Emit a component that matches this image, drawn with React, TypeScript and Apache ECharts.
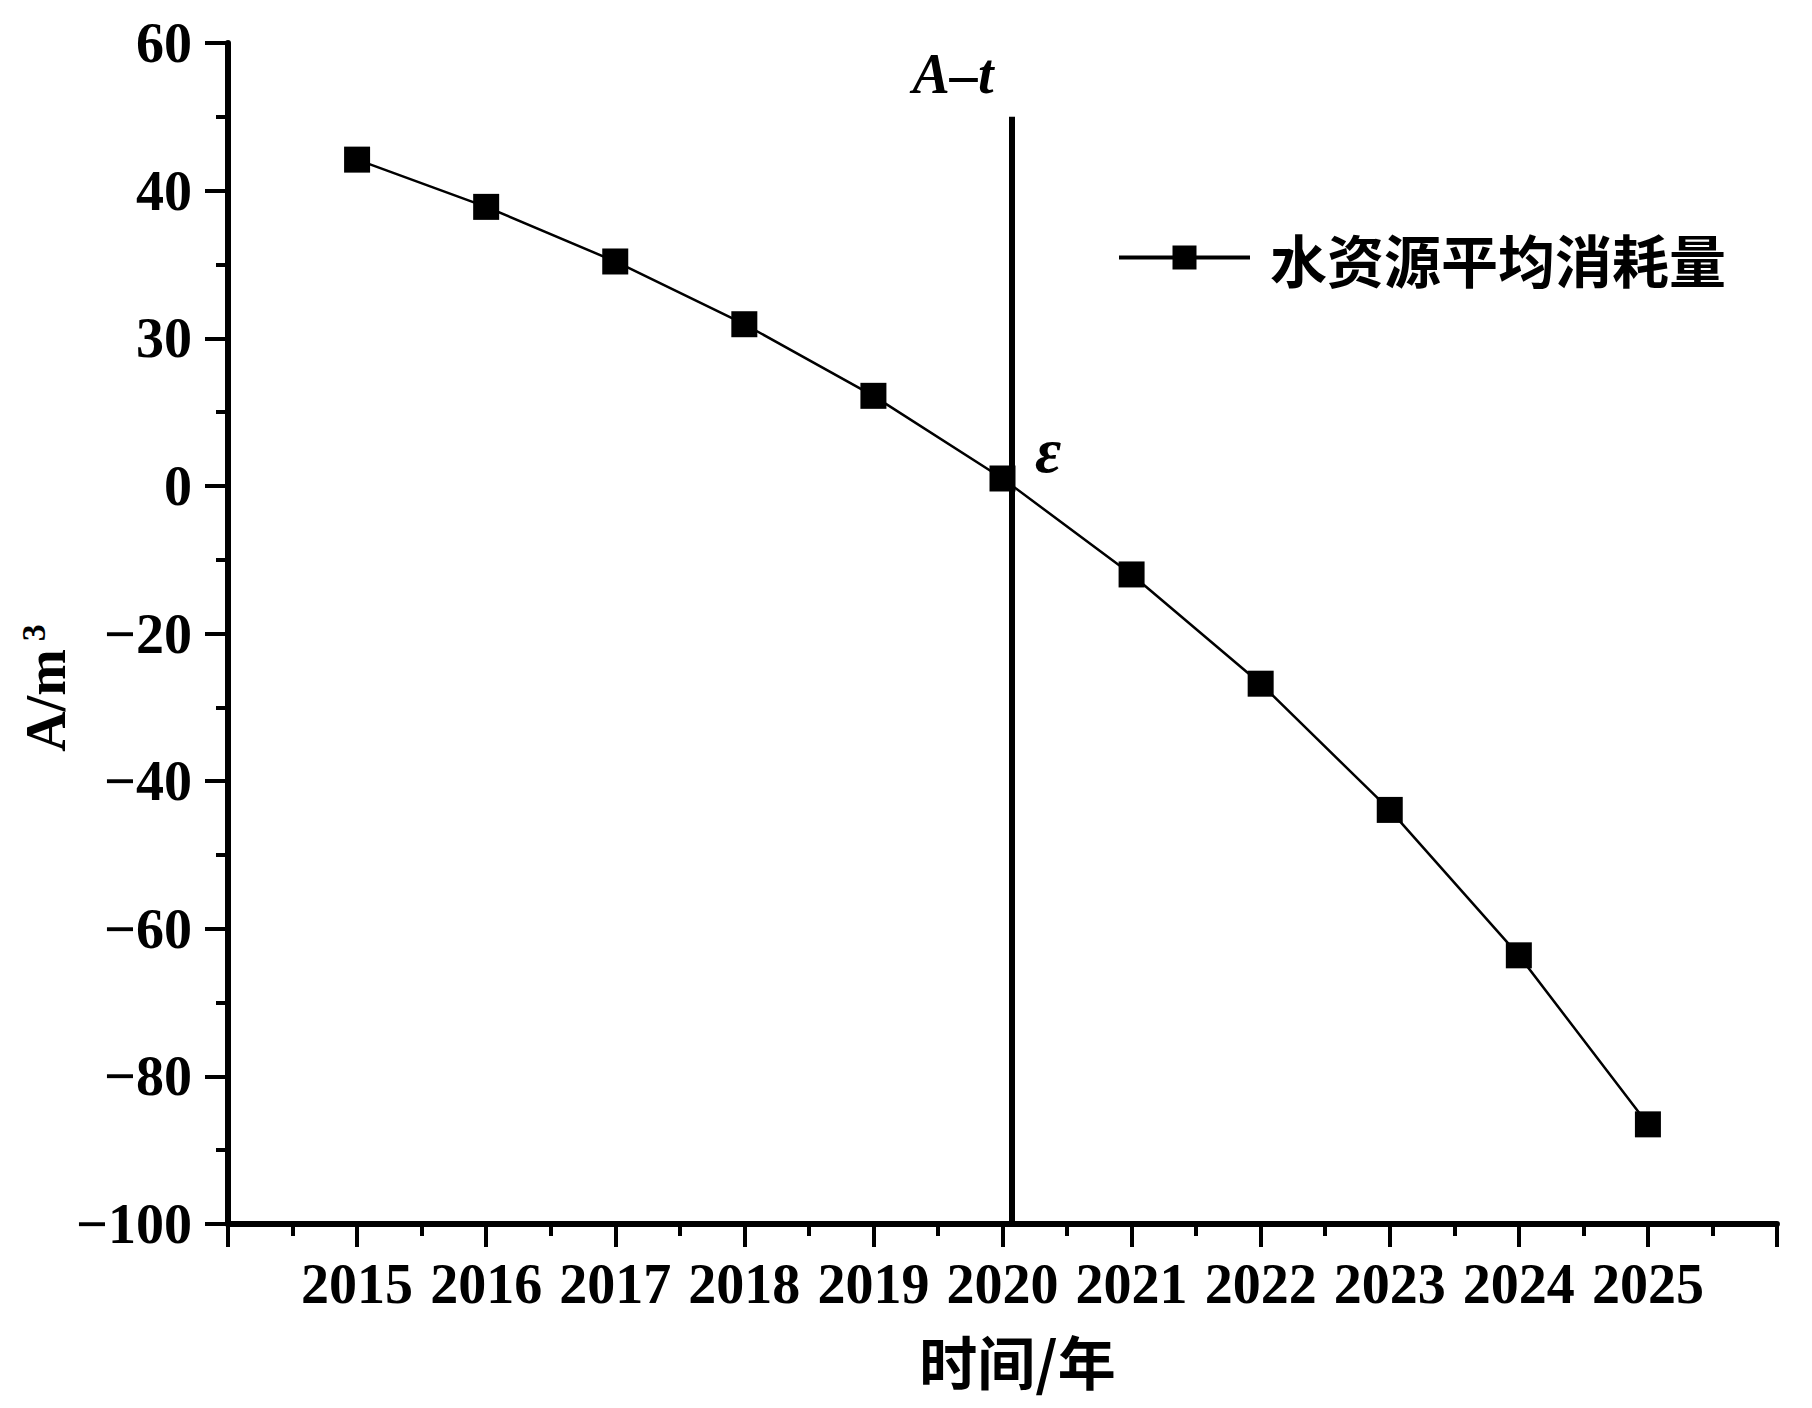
import React, { useEffect, useRef } from "react";
import * as echarts from "echarts";

const years = [2015, 2016, 2017, 2018, 2019, 2020, 2021, 2022, 2023, 2024, 2025];
const consumption = [44.2, 37.8, 30.4, 21.9, 12.2, 1.0, -12.0, -26.8, -43.9, -63.6, -86.5];
const yTickValues = [-100, -80, -60, -40, -20, 0, 20, 40, 60];
const yTickLabels = ["−100", "−80", "−60", "−40", "−20", "0", "30", "40", "60"];
const seriesName = "水资源平均消耗量";
const dividerYear = 2020.07;
const dividerTop = 50;
const xAxisTitle = "时间/年";
const curveLabel = "A–t";
const pointLabel = "ε";

const SERIF = "'Liberation Serif', 'Times New Roman', serif";
const CJK = "'Noto Sans CJK SC', sans-serif";

export default function App() {
  const ref = useRef<HTMLDivElement>(null);
  useEffect(() => {
    const chart = echarts.init(ref.current!, null, { renderer: "svg" });
    chart.setOption({
      animation: false,
      backgroundColor: "#fff",
      grid: { left: 228, right: 35, top: 43, bottom: 184, containLabel: false },
      legend: {
        left: 1117,
        top: 229,
        padding: 0,
        itemWidth: 131,
        itemHeight: 30,
        data: [{ name: seriesName }],
        lineStyle: { width: 4, color: "#000" },
        textStyle: {
          fontSize: 57,
          fontFamily: CJK,
          fontWeight: "bold",
          color: "#000",
          padding: [0, 0, 0, 15],
        },
      },
      xAxis: {
        type: "value",
        min: 2014,
        max: 2026,
        interval: 1,
        axisLine: { show: true, onZero: false, lineStyle: { color: "#000", width: 6 } },
        axisTick: { show: true, length: 23, lineStyle: { color: "#000", width: 4 } },
        minorTick: { show: true, splitNumber: 2, length: 12, lineStyle: { color: "#000", width: 4 } },
        splitLine: { show: false },
        minorSplitLine: { show: false },
        axisLabel: {
          margin: 32,
          fontSize: 56,
          fontFamily: SERIF,
          fontWeight: "bold",
          color: "#000",
          hideOverlap: false,
          showMinLabel: true,
          showMaxLabel: true,
          formatter: (v: number) => (years.includes(v) ? String(v) : ""),
        },
        name: xAxisTitle,
        nameLocation: "middle",
        nameGap: 107,
        nameTextStyle: {
          fontSize: 58,
          fontFamily: CJK,
          fontWeight: "bold",
          color: "#000",
          padding: [0, 0, 0, 30],
        },
      },
      yAxis: {
        type: "value",
        min: -100,
        max: 60,
        interval: 20,
        axisLine: { show: true, onZero: false, lineStyle: { color: "#000", width: 6 } },
        axisTick: { show: true, length: 23, lineStyle: { color: "#000", width: 4 } },
        minorTick: { show: true, splitNumber: 2, length: 12, lineStyle: { color: "#000", width: 4 } },
        splitLine: { show: false },
        minorSplitLine: { show: false },
        axisLabel: {
          margin: 36,
          fontSize: 56,
          fontFamily: SERIF,
          fontWeight: "bold",
          color: "#000",
          formatter: (v: number) => {
            const i = yTickValues.indexOf(v);
            return i >= 0 ? yTickLabels[i] : "";
          },
        },
      },
      series: [
        {
          name: seriesName,
          type: "line",
          data: years.map((y, i) => [y, consumption[i]]),
          symbol: "rect",
          symbolSize: 26,
          itemStyle: { color: "#000" },
          lineStyle: { color: "#000", width: 2.5 },
          markLine: {
            silent: true,
            symbol: ["none", "none"],
            label: { show: false },
            lineStyle: { color: "#000", width: 6, type: "solid" },
            data: [[{ coord: [dividerYear, dividerTop] }, { coord: [dividerYear, -100] }]],
          },
        },
      ],
      graphic: [
        {
          type: "text",
          x: 953,
          y: 74,
          style: {
            text: curveLabel,
            fontSize: 56,
            fontFamily: SERIF,
            fontWeight: "bold",
            fontStyle: "italic",
            fill: "#000",
            align: "center",
            verticalAlign: "middle",
          },
        },
        {
          type: "text",
          x: 1048,
          y: 450,
          style: {
            text: pointLabel,
            fontSize: 64,
            fontFamily: SERIF,
            fontWeight: "bold",
            fontStyle: "italic",
            fill: "#000",
            align: "center",
            verticalAlign: "middle",
          },
        },
        {
          type: "text",
          x: 46,
          y: 688,
          rotation: Math.PI / 2,
          style: {
            text: "{a|A/m}{s|3}",
            align: "center",
            verticalAlign: "middle",
            rich: {
              a: { fontSize: 56, fontFamily: SERIF, fontWeight: "bold", fill: "#000", lineHeight: 60 },
              s: {
                fontSize: 34,
                fontFamily: SERIF,
                fontWeight: "bold",
                fill: "#000",
                verticalAlign: "top",
                padding: [0, 0, 0, 8],
              },
            },
          },
        },
      ],
    });
    return () => chart.dispose();
  }, []);
  return (
    <div
      ref={ref}
      style={{ position: "fixed", left: 0, top: 0, width: 1812, height: 1408, background: "#fff" }}
    />
  );
}
